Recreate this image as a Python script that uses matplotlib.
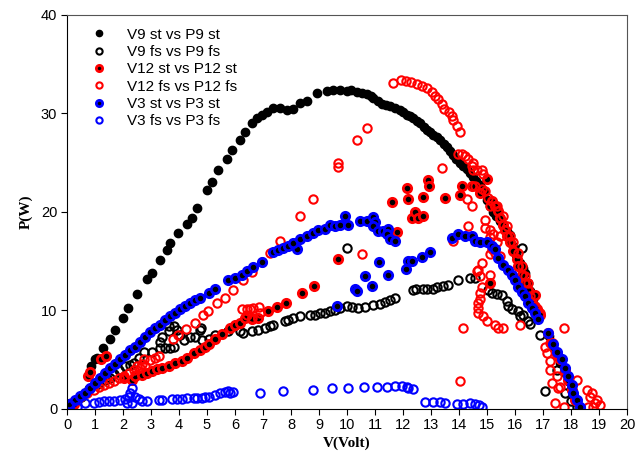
import matplotlib
matplotlib.use('Agg')
import matplotlib.pyplot as plt

# V9 st vs P9 st (black filled)
v9_st_v = [0.10, 0.87, 0.99, 1.07, 1.29, 1.54, 1.71, 2.00, 2.18, 2.50, 2.86, 3.04, 3.32, 3.57, 3.68,
           3.96, 4.29, 4.46, 4.64, 5.00, 5.18, 5.39, 5.71, 5.89, 6.18, 6.36, 6.61, 6.79, 6.96, 7.14,
           7.36, 7.61, 7.86, 8.07, 8.32, 8.57, 8.93, 9.29, 9.50, 9.75, 10.00, 10.15, 10.36, 10.55, 10.71,
           10.85, 10.93, 11.10, 11.25, 11.40, 11.54, 11.70, 11.89, 12.00, 12.14, 12.25, 12.36, 12.50, 12.61, 12.75,
           12.86, 12.95, 13.07, 13.20, 13.32, 13.45, 13.57, 13.68, 13.79, 13.90, 14.04, 14.15, 14.29, 14.40, 14.50,
           14.62, 14.75, 14.88, 15.00, 15.10, 15.21, 15.33, 15.46, 15.58, 15.71, 15.82, 15.93, 16.05, 16.18, 16.27,
           16.36, 16.46, 16.55, 16.65, 16.77, 17.20, 17.35, 17.50, 17.62, 17.75, 17.88, 18.00, 18.10, 18.20, 18.30]
v9_st_p = [0.6, 4.3, 5.0, 5.1, 6.2, 7.1, 8.0, 9.2, 10.2, 11.7, 13.2, 13.8, 15.1, 16.1, 16.8,
           17.8, 18.8, 19.4, 20.4, 22.2, 23.0, 24.2, 25.4, 26.3, 27.3, 28.1, 29.0, 29.5, 29.8, 30.1,
           30.5, 30.6, 30.3, 30.4, 31.1, 31.3, 32.1, 32.3, 32.4, 32.4, 32.3, 32.4, 32.2, 32.1, 32.0,
           31.8, 31.6, 31.3, 31.0, 30.9, 30.8, 30.6, 30.3, 30.1, 29.8, 29.7, 29.5, 29.2, 29.0, 28.6,
           28.3, 28.1, 27.8, 27.6, 27.3, 26.9, 26.6, 26.2, 25.8, 25.4, 25.0, 24.7, 24.4, 23.9, 23.5,
           23.1, 22.7, 22.0, 21.2, 20.6, 20.0, 19.6, 19.1, 18.6, 18.1, 17.6, 16.5, 15.6, 14.8, 14.3,
           13.8, 12.8, 12.0, 11.1, 9.7, 7.4, 6.4, 5.4, 4.6, 3.7, 2.8, 2.0, 1.3, 0.7, 0.2]

# V9 fs vs P9 fs (black open)
v9_fs_v = [0.20, 0.50, 0.80, 1.10, 1.37, 1.55, 1.67, 1.85, 2.08, 2.26, 2.38, 2.56, 2.74, 3.04, 3.33,
           3.33, 3.39, 3.51, 3.63, 3.63, 3.69, 3.81, 3.81, 3.93, 4.05, 4.17, 4.40, 4.58, 4.76, 4.80,
           4.82, 5.06, 5.29, 5.76, 6.18, 6.30, 6.60, 6.83, 7.07, 7.25, 7.37, 7.79, 7.90, 8.08, 8.32,
           8.68, 8.86, 9.04, 9.21, 9.39, 9.57, 9.75, 9.99, 9.99, 10.17, 10.40, 10.64, 10.94, 11.18, 11.36,
           11.54, 11.71, 12.37, 12.45, 12.73, 12.85, 13.08, 13.20, 13.44, 13.62, 13.98, 14.39, 14.57, 15.05, 15.17,
           15.35, 15.53, 15.70, 15.76, 15.88, 16.12, 16.18, 16.24, 16.30, 16.47, 16.55, 16.90, 17.07, 17.50, 17.80,
           18.00, 18.20]
v9_fs_p = [0.5, 1.2, 2.0, 2.5, 2.9, 3.1, 3.5, 3.9, 4.3, 4.45, 4.6, 5.1, 5.8, 5.8, 6.8,
           6.2, 7.3, 6.2, 7.85, 8.4, 6.2, 6.3, 8.4, 8.0, 7.5, 7.0, 7.3, 7.3, 8.0, 8.2,
           7.0, 7.06, 7.5, 7.85, 7.85, 7.7, 7.85, 8.0, 8.2, 8.4, 8.5, 8.9, 9.0, 9.2, 9.4,
           9.55, 9.55, 9.7, 9.7, 9.9, 10.0, 10.2, 10.4, 16.35, 10.3, 10.2, 10.3, 10.5, 10.6, 10.8,
           11.0, 11.2, 12.1, 12.2, 12.2, 12.2, 12.2, 12.4, 12.5, 12.6, 13.05, 13.3, 13.3, 12.1, 11.8,
           11.7, 11.5, 10.9, 10.4, 10.1, 9.9, 9.45, 16.35, 9.55, 8.9, 8.6, 7.5, 1.8, 3.9, 1.6,
           0.8, 0.2]

# V12 st vs P12 st (red ring, black centre)
v12_st_v = [0.25, 0.75, 0.83, 1.22, 1.39, 2.02, 2.32, 2.44, 2.68, 2.86, 3.04, 3.21, 3.39, 3.63, 3.87,
            4.10, 4.28, 4.52, 4.76, 4.94, 5.06, 5.29, 5.52, 5.82, 6.00, 6.18, 6.36, 6.60, 6.83, 7.19,
            7.49, 7.82, 8.38, 8.83, 9.69, 11.60, 11.77, 12.13, 12.19, 12.31, 12.43, 12.52, 12.70, 12.73, 12.88,
            12.94, 13.50, 14.04, 14.12, 14.45, 14.75, 14.99, 15.11, 15.17, 15.29, 15.40, 15.46, 15.58, 15.64, 15.70,
            15.82, 15.94, 16.06, 16.12, 16.24, 16.36, 16.47, 16.60, 16.71, 16.77, 16.89, 17.19, 17.31, 17.49, 17.60,
            17.79, 17.90, 18.02, 18.14, 18.32]
v12_st_p = [0.5, 3.3, 3.7, 5.0, 5.4, 3.1, 2.9, 3.3, 3.4, 3.6, 3.8, 4.0, 4.1, 4.35, 4.6,
            4.85, 5.2, 5.65, 6.0, 6.3, 6.6, 7.1, 7.6, 8.2, 8.5, 8.7, 9.2, 9.1, 9.2, 9.9,
            10.3, 10.7, 11.8, 12.5, 15.2, 21.0, 18.0, 22.4, 21.3, 19.4, 20.0, 19.4, 21.5, 19.6, 23.2,
            22.6, 21.4, 21.7, 22.6, 22.6, 21.95, 23.3, 12.8, 21.1, 20.6, 20.1, 19.4, 18.7, 18.2, 17.5,
            16.9, 16.0, 15.2, 14.5, 13.6, 12.8, 12.1, 10.7, 11.6, 10.1, 9.55, 7.7, 6.7, 5.6, 5.0,
            3.9, 2.9, 1.9, 0.9, 0.05]

# V12 fs vs P12 fs (red open)
v12_fs_v = [0.48, 0.71, 0.95, 1.13, 1.31, 1.49, 1.67, 1.85, 2.03, 2.20, 2.38, 2.50, 2.62, 2.68, 2.74,
            2.80, 2.98, 3.15, 3.27, 3.80, 3.98, 4.25, 4.57, 4.87, 5.05, 5.35, 5.64, 5.94, 6.30, 6.60,
            6.95, 7.25, 7.61, 8.32, 8.80, 9.69, 9.69, 10.37, 10.70, 10.52, 6.24, 6.42, 6.54, 6.65, 6.87,
            6.42, 6.60, 6.90, 11.65, 11.92, 12.10, 12.30, 12.49, 12.67, 12.85, 13.02, 13.14, 13.26, 13.38, 13.46,
            13.65, 13.74, 13.80, 13.92, 14.04, 13.38, 13.98, 14.10, 14.21, 14.33, 14.45, 14.51, 14.27, 14.45, 14.33,
            13.80, 14.15, 14.04, 14.51, 14.63, 14.81, 14.87, 14.57, 14.81, 14.93, 15.05, 15.11, 15.35, 15.58, 15.70,
            15.82, 15.94, 16.12, 16.24, 16.36, 16.47, 16.54, 16.71, 16.89, 14.93, 14.93, 15.11, 15.23, 15.11, 15.46,
            15.35, 15.17, 15.11, 15.29, 15.46, 14.81, 14.69, 14.63, 14.75, 14.81, 14.75, 14.75, 14.69, 14.69, 14.69,
            14.87, 14.99, 15.29, 15.40, 15.58, 16.18, 15.11, 17.07, 17.13, 17.25, 17.25, 17.31, 17.49, 17.60, 17.74,
            17.43, 18.20, 18.56, 18.68, 18.86, 18.62, 18.80, 18.74, 18.92, 19.04, 17.74, 17.25, 17.55]
v12_fs_p = [1.2, 1.6, 1.9, 2.2, 2.4, 2.6, 2.85, 3.1, 3.3, 3.6, 3.9, 4.3, 4.1, 4.55, 5.0,
            4.3, 4.9, 5.2, 5.4, 7.1, 7.5, 8.1, 8.7, 9.55, 9.95, 10.7, 11.25, 12.1, 13.1, 13.9,
            14.9, 15.85, 17.0, 19.6, 21.3, 25.0, 24.6, 27.3, 28.5, 15.7, 10.1, 10.1, 10.1, 10.2, 10.3,
            9.55, 9.2, 9.7, 33.1, 33.4, 33.3, 33.2, 33.0, 32.8, 32.6, 32.2, 31.8, 31.5, 31.0, 30.4,
            30.1, 29.7, 29.3, 28.7, 28.1, 24.5, 25.9, 25.9, 25.7, 25.35, 24.7, 24.2, 21.3, 20.6, 18.55,
            17.0, 8.2, 2.8, 25.0, 24.2, 24.2, 23.8, 22.6, 22.3, 22.1, 21.4, 20.6, 20.6, 19.6, 18.6,
            17.5, 16.9, 15.8, 14.5, 13.45, 12.8, 11.4, 10.4, 9.7, 19.2, 18.4, 18.2, 17.7, 17.4, 17.5,
            16.9, 16.2, 15.7, 15.8, 15.5, 14.8, 14.1, 14.0, 13.45, 12.4, 11.8, 11.1, 10.7, 10.2, 9.7,
            9.4, 8.9, 8.5, 8.2, 8.2, 8.5, 13.6, 6.3, 5.65, 4.8, 3.9, 2.6, 3.3, 2.25, 0.2,
            0.55, 2.9, 1.9, 1.2, 0.55, 0.2, 0.2, 1.6, 0.9, 0.4, 8.2, 6.7, 2.1]

# V3 st vs P3 st (blue ring, black centre)
v3_st_v = [0.08, 0.30, 0.48, 0.65, 0.83, 1.01, 1.19, 1.37, 1.55, 1.73, 1.90, 2.08, 2.26, 2.44, 2.62,
           2.80, 2.98, 3.15, 3.33, 3.51, 3.69, 3.87, 4.05, 4.23, 4.40, 4.58, 4.76, 5.06, 5.29, 5.76,
           6.00, 6.24, 6.42, 6.65, 6.95, 7.37, 7.55, 7.73, 7.90, 8.20, 8.08, 8.32, 8.56, 8.80, 8.98,
           9.21, 9.39, 9.57, 9.75, 9.93, 10.05, 9.65, 10.46, 10.70, 10.94, 11.00, 10.94, 11.12, 11.30, 11.48,
           11.42, 11.54, 11.71, 10.29, 10.35, 10.64, 10.88, 11.15, 11.48, 12.10, 12.19, 12.31, 12.67, 12.96, 13.74,
           13.98, 14.21, 14.45, 14.57, 14.75, 14.99, 15.17, 15.29, 15.40, 15.58, 15.76, 15.88, 16.00, 16.12, 16.24,
           16.36, 16.47, 16.60, 16.71, 16.83, 17.19, 17.37, 17.49, 17.67, 17.79, 17.90, 18.02, 18.08, 18.20, 18.32]
v3_st_p = [0.47, 0.9, 1.25, 1.6, 2.1, 2.6, 3.1, 3.6, 4.1, 4.55, 5.0, 5.5, 6.0, 6.3, 6.8,
           7.3, 7.75, 8.2, 8.5, 9.0, 9.4, 9.7, 10.1, 10.4, 10.7, 11.0, 11.25, 11.8, 12.2, 13.05,
           13.3, 13.6, 13.95, 14.4, 14.9, 15.9, 16.1, 16.35, 16.5, 16.25, 16.85, 17.2, 17.5, 17.9, 18.2,
           18.3, 18.7, 18.55, 18.7, 19.6, 18.7, 10.4, 19.1, 19.1, 19.5, 19.0, 18.55, 18.05, 18.05, 18.3,
           17.7, 17.2, 17.0, 12.2, 12.0, 13.45, 12.5, 14.9, 13.6, 14.2, 15.0, 15.0, 15.4, 15.9, 17.3,
           17.7, 17.5, 17.5, 17.0, 16.9, 16.9, 16.5, 16.2, 15.3, 14.6, 14.1, 13.6, 13.1, 12.4, 11.9,
           11.4, 10.7, 10.2, 9.7, 9.1, 7.7, 6.6, 5.8, 5.0, 4.1, 3.3, 2.4, 1.6, 0.9, 0.2]

# V3 fs vs P3 fs (blue open)
v3_fs_v = [0.12, 0.35, 0.65, 0.95, 1.13, 1.31, 1.49, 1.67, 1.90, 2.08, 2.20, 2.26, 2.31, 2.44, 2.56,
           2.14, 2.32, 2.68, 2.86, 3.27, 3.39, 3.75, 3.93, 4.10, 4.28, 4.52, 4.64, 4.82, 4.94, 5.06,
           5.29, 5.46, 5.64, 5.76, 5.82, 5.94, 6.89, 7.73, 8.77, 9.45, 10.05, 10.61, 11.06, 11.42, 11.71,
           11.95, 12.13, 12.19, 12.35, 12.79, 13.08, 13.32, 13.50, 13.92, 14.15, 14.39, 14.57, 14.70, 14.81]
v3_fs_p = [0.4, 0.2, 0.55, 0.6, 0.7, 0.75, 0.8, 0.8, 0.9, 0.95, 1.2, 1.55, 2.1, 1.2, 0.95,
           0.55, 0.55, 0.8, 0.8, 0.9, 0.9, 0.95, 0.95, 1.0, 1.05, 1.05, 1.05, 1.1, 1.2, 1.2,
           1.4, 1.6, 1.7, 1.8, 1.55, 1.7, 1.6, 1.8, 1.9, 2.1, 2.1, 2.2, 2.2, 2.25, 2.3,
           2.3, 2.25, 2.1, 2.0, 0.7, 0.7, 0.7, 0.6, 0.5, 0.5, 0.55, 0.5, 0.35, 0.2]

labels = ['V9 st vs P9 st', 'V9 fs vs P9 fs', 'V12 st vs P12 st',
          'V12 fs vs P12 fs', 'V3 st vs P3 st', 'V3 fs vs P3 fs']

plt.rcParams['font.family'] = ['Liberation Sans', 'DejaVu Sans']

fig = plt.figure(figsize=(6.4, 4.54), dpi=100)
ax = fig.add_axes([0.1047, 0.0998, 0.8750, 0.8672])

ms = 6
ax.plot(v9_st_v, v9_st_p, 'o', ms=ms, mfc='black', mec='black', mew=1.0, label=labels[0])
ax.plot(v9_fs_v, v9_fs_p, 'o', ms=ms, mfc='none', mec='black', mew=1.5, label=labels[1])
ax.plot(v12_st_v, v12_st_p, 'o', ms=ms, mfc='black', mec='red', mew=2.0, label=labels[2])
ax.plot(v12_fs_v, v12_fs_p, 'o', ms=ms, mfc='none', mec='red', mew=1.5, label=labels[3])
ax.plot(v3_st_v, v3_st_p, 'o', ms=ms, mfc='black', mec='blue', mew=2.0, label=labels[4])
ax.plot(v3_fs_v, v3_fs_p, 'o', ms=ms, mfc='none', mec='blue', mew=1.5, label=labels[5])

ax.set_xlim(0, 20)
ax.set_ylim(0, 40)
ax.set_xticks(range(0, 21))
ax.set_yticks(range(0, 41, 10))
ax.tick_params(direction='out', length=4, width=0.8, labelsize=10.5, pad=3)
for s in ax.spines.values():
    s.set_linewidth(0.8)
ax.spines['top'].set_color('#555555')
ax.spines['right'].set_color('#555555')

ax.set_xlabel('V(Volt)', family='Liberation Serif', fontweight='bold', fontsize=11, labelpad=3)
ax.set_ylabel('P(W)', family='Liberation Serif', fontweight='bold', fontsize=11, labelpad=6)

ax.legend(loc='upper left', frameon=False, fontsize=11, markerscale=0.75,
          handlelength=1.0, handletextpad=1.3, labelspacing=0.22,
          borderaxespad=0.3, bbox_to_anchor=(0.025, 0.995))

fig.savefig('out.png', dpi=100)
